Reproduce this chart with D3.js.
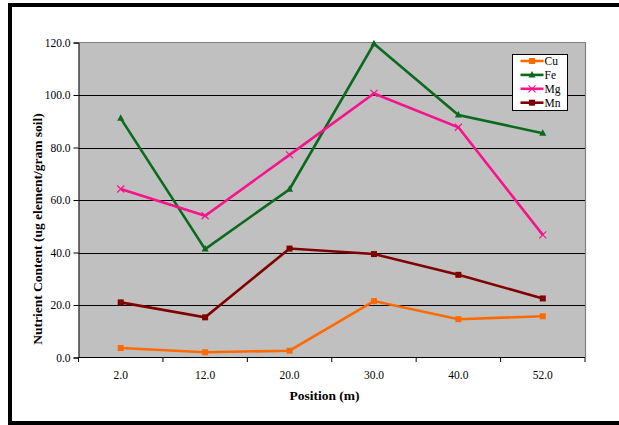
<!DOCTYPE html>
<html><head><meta charset="utf-8">
<script src="https://cdn.jsdelivr.net/npm/d3@7"></script>
<style>body{margin:0;background:#fff}svg{display:block}
svg text{font-family:"Liberation Serif","Times New Roman",Times,"DejaVu Serif",serif !important;}</style>
</head><body>
<script>
const categories = ["2.0","12.0","20.0","30.0","40.0","52.0"];
const cu = [3.6, 2.0, 2.6, 21.5, 14.6, 15.7];
const fe = [91.1, 41.3, 64.1, 119.5, 92.4, 85.4];
const mg = [64.2, 54.0, 77.2, 100.6, 87.7, 46.7];
const mn = [21.0, 15.3, 41.5, 39.4, 31.5, 22.5];
const yTicks = [0, 20, 40, 60, 80, 100, 120];
const seriesNames = ["Cu","Fe","Mg","Mn"];
const colors = {Cu:"#ff6a00", Fe:"#0b6a1e", Mg:"#f5148c", Mn:"#800000"};
const markers = {Cu:"square", Fe:"triangle", Mg:"cross", Mn:"square"};
const series = [
  {name:"Cu", values:cu},{name:"Fe", values:fe},{name:"Mg", values:mg},{name:"Mn", values:mn}
];

const W = 619, H = 425;
const P = {left:78.5, right:585, top:42.5, bottom:357.5};
const svg = d3.select("body").append("svg").attr("width",W).attr("height",H);

// outer frame
svg.append("rect").attr("x",10).attr("y",5).attr("width",640).attr("height",418)
  .attr("fill","none").attr("stroke","#000").attr("stroke-width",4);

const x = d3.scaleBand().domain(categories).range([P.left, P.right]);
const y = d3.scaleLinear().domain([0,120]).range([P.bottom, P.top]);

// plot area
svg.append("rect").attr("x",P.left).attr("y",P.top).attr("width",P.right-P.left)
  .attr("height",P.bottom-P.top).attr("fill","#c0c0c0");

// gridlines
svg.append("g").selectAll("line").data(yTicks.filter(t=>t>0 && t<120)).join("line")
  .attr("x1",P.left).attr("x2",P.right)
  .attr("y1",d=>Math.round(y(d))+0.5).attr("y2",d=>Math.round(y(d))+0.5)
  .attr("stroke","#000").attr("stroke-width",1);
// top & right border gray
svg.append("path").attr("d",`M${P.left},${P.top}H${P.right+0.5}V${P.bottom}`)
  .attr("fill","none").attr("stroke","#808080").attr("stroke-width",1.2);

// y axis
const yAxis = d3.axisLeft(y).tickValues(yTicks).tickFormat(d3.format(".1f")).tickSize(5).tickPadding(3);
const gy = svg.append("g").attr("transform",`translate(${P.left},0)`).call(yAxis);
gy.attr("font-family", null);
gy.select(".domain").attr("stroke","#000");
gy.selectAll("text").attr("font-size","11.5px").attr("fill","#000");

// x axis
const xAxis = d3.axisBottom(x).tickSize(0).tickPadding(13);
const gx = svg.append("g").attr("transform",`translate(0,${P.bottom})`).call(xAxis);
gx.attr("font-family", null);
gx.select(".domain").attr("stroke","#000").attr("d",`M${P.left},0H${P.right}`);
gx.selectAll("text").attr("font-size","11.5px").attr("fill","#000");
// boundary ticks
const bounds = categories.map(c=>x(c)).concat([P.right]);
svg.append("g").selectAll("line").data(bounds).join("line")
  .attr("x1",d=>d).attr("x2",d=>d).attr("y1",P.bottom).attr("y2",P.bottom+4.5)
  .attr("stroke","#000").attr("stroke-width",1);

// titles
svg.append("text").attr("x",324.5).attr("y",399.5).attr("text-anchor","middle")
  .attr("font-size","13.5px").attr("font-weight","bold")
  .text("Position (m)");
svg.append("text").attr("transform","translate(41.5,229) rotate(-90)").attr("text-anchor","middle")
  .attr("font-size","13.5px").attr("font-weight","bold")
  .text("Nutrient Content (ug element/gram soil)");

function drawMarker(g, type, cx, cy, color){
  if(type==="square"){
    g.append("rect").attr("x",cx-3).attr("y",cy-3).attr("width",6).attr("height",6).attr("fill",color);
  } else if(type==="triangle"){
    g.append("path").attr("d",`M${cx},${cy-4}L${cx+3.5},${cy+2.5}L${cx-3.5},${cy+2.5}Z`).attr("fill",color);
  } else {
    g.append("path").attr("d",`M${cx-3.5},${cy-3.5}L${cx+3.5},${cy+3.5}M${cx-3.5},${cy+3.5}L${cx+3.5},${cy-3.5}`)
      .attr("stroke",color).attr("stroke-width",1.2);
  }
}

const cx = c => x(c) + x.bandwidth()/2;
const line = d3.line().x((d,i)=>cx(categories[i])).y(d=>y(d));
series.forEach(s=>{
  const g = svg.append("g");
  g.append("path").datum(s.values).attr("d",line).attr("fill","none")
    .attr("stroke",colors[s.name]).attr("stroke-width",2.6).attr("stroke-linejoin","miter");
  s.values.forEach((v,i)=>drawMarker(g, markers[s.name], cx(categories[i]), y(v), colors[s.name]));
});

// legend
const L = {x:512, y:54, w:55, h:56};
const lg = svg.append("g");
lg.append("rect").attr("x",L.x+0.5).attr("y",L.y+0.5).attr("width",L.w).attr("height",L.h)
  .attr("fill","#fff").attr("stroke","#000").attr("stroke-width",1);
seriesNames.forEach((n,i)=>{
  const yy = 61 + i*13.9;
  lg.append("line").attr("x1",520.5).attr("x2",543.5).attr("y1",yy).attr("y2",yy)
    .attr("stroke",colors[n]).attr("stroke-width",2.6);
  drawMarker(lg, markers[n], 532, yy, colors[n]);
  lg.append("text").attr("x",544.5).attr("y",yy+4).attr("font-size","11.5px").text(n);
});
</script>
</body></html>
